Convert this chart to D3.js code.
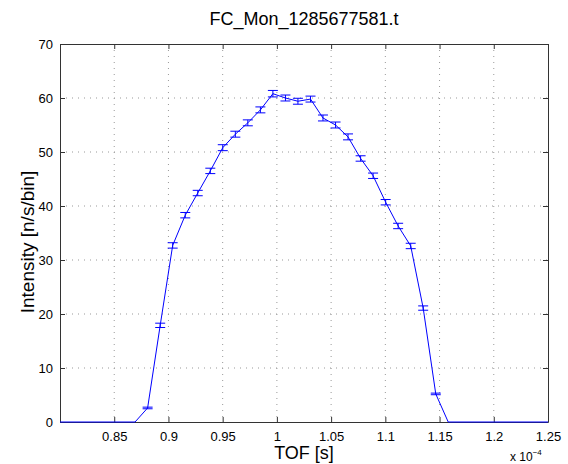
<!DOCTYPE html>
<html>
<head>
<meta charset="utf-8">
<script src="https://cdn.jsdelivr.net/npm/d3@7"></script>
<style>
  body { margin: 0; background: #fff; }
  svg text { font-family: "Liberation Sans", Arial, sans-serif; fill: #000; }
</style>
</head>
<body>
<div id="chart"></div>
<script>
// TOF in units of 1e-4 s
const tof = [0.80, 0.8692, 0.8808, 0.8924, 0.9039, 0.9155, 0.9270, 0.9386, 0.9501, 0.9617,
             0.9732, 0.9848, 0.9963, 1.0079, 1.0194, 1.0310, 1.0425, 1.0541, 1.0656, 1.0772,
             1.0887, 1.1003, 1.1118, 1.1234, 1.1349, 1.1465, 1.1580, 1.25];
const intensity = [0, 0, 2.6, 17.9, 32.7, 38.3, 42.4, 46.5, 50.8, 53.3,
                   55.4, 57.8, 60.8, 60.0, 59.4, 59.8, 56.3, 55.0, 52.8, 48.8,
                   45.6, 40.7, 36.3, 32.6, 21.1, 5.2, 0, 0];
const err = [0, 0, 0.15, 0.4, 0.5, 0.5, 0.5, 0.5, 0.55, 0.55,
             0.55, 0.55, 0.6, 0.55, 0.55, 0.55, 0.55, 0.55, 0.55, 0.5,
             0.5, 0.5, 0.5, 0.5, 0.4, 0.15, 0, 0];
const xTicks = [0.85, 0.9, 0.95, 1, 1.05, 1.1, 1.15, 1.2, 1.25];
const yTicks = [0, 10, 20, 30, 40, 50, 60, 70];

const W = 568, H = 464;
const margin = { top: 44, right: 20, bottom: 42, left: 60 };
const width = W - margin.left - margin.right;
const height = H - margin.top - margin.bottom;

const data = tof.map((t, i) => ({ t: t, y: intensity[i], e: err[i] }));

const svg = d3.select("#chart").append("svg")
  .attr("width", W)
  .attr("height", H);

const g = svg.append("g")
  .attr("transform", `translate(${margin.left}, ${margin.top})`);

const x = d3.scaleLinear().domain([0.8, 1.25]).range([0, width]);
const y = d3.scaleLinear().domain([0, 70]).range([height, 0]);

// dotted grid
g.append("g").selectAll("line")
  .data(xTicks.slice(0, -1))
  .join("line")
  .attr("x1", d => x(d)).attr("x2", d => x(d))
  .attr("y1", 0).attr("y2", height)
  .attr("stroke", "#999").attr("stroke-width", 1)
  .attr("stroke-dasharray", "1,5");

g.append("g").selectAll("line")
  .data(yTicks.slice(1, -1))
  .join("line")
  .attr("x1", 0).attr("x2", width)
  .attr("y1", d => y(d)).attr("y2", d => y(d))
  .attr("stroke", "#999").attr("stroke-width", 1)
  .attr("stroke-dasharray", "1,5");

// axes (ticks inward, box)
const xAxis = g.append("g")
  .attr("transform", `translate(0, ${height})`)
  .call(d3.axisBottom(x).tickValues(xTicks).tickSizeInner(-5).tickSizeOuter(0).tickPadding(10)
    .tickFormat(d3.format("")));
const xTop = g.append("g")
  .call(d3.axisTop(x).tickValues(xTicks).tickSizeInner(-5).tickSizeOuter(0).tickFormat(""));
const yAxis = g.append("g")
  .call(d3.axisLeft(y).tickValues(yTicks).tickSizeInner(-5).tickSizeOuter(0).tickPadding(7));
const yRight = g.append("g")
  .attr("transform", `translate(${width}, 0)`)
  .call(d3.axisRight(y).tickValues(yTicks).tickSizeInner(-5).tickSizeOuter(0).tickFormat(""));

[xAxis, xTop, yAxis, yRight].forEach(a => {
  a.select(".domain").attr("stroke", "#333");
  a.selectAll(".tick line").attr("stroke", "#333");
  a.selectAll("text").style("font-size", "13px")
    .style("font-family", "'Liberation Sans', Arial, sans-serif");
});

// data line
const line = d3.line().x(d => x(d.t)).y(d => y(d.y));
g.append("path")
  .datum(data)
  .attr("fill", "none")
  .attr("stroke", "#0000ff")
  .attr("stroke-width", 1)
  .attr("d", line);

// error bars
const eb = g.append("g").selectAll("g")
  .data(data.filter(d => d.y > 0))
  .join("g")
  .attr("stroke", "#0000ff")
  .attr("stroke-width", 1);
eb.append("line")
  .attr("x1", d => x(d.t)).attr("x2", d => x(d.t))
  .attr("y1", d => y(d.y - d.e)).attr("y2", d => y(d.y + d.e));
eb.append("line")
  .attr("x1", d => x(d.t) - 5).attr("x2", d => x(d.t) + 5)
  .attr("y1", d => y(d.y - d.e)).attr("y2", d => y(d.y - d.e));
eb.append("line")
  .attr("x1", d => x(d.t) - 5).attr("x2", d => x(d.t) + 5)
  .attr("y1", d => y(d.y + d.e)).attr("y2", d => y(d.y + d.e));

// title and labels
svg.append("text")
  .attr("x", margin.left + width / 2)
  .attr("y", 25)
  .attr("text-anchor", "middle")
  .style("font-size", "18px")
  .text("FC_Mon_1285677581.t");

svg.append("text")
  .attr("x", margin.left + width / 2)
  .attr("y", 459)
  .attr("text-anchor", "middle")
  .style("font-size", "18px")
  .text("TOF [s]");

svg.append("text")
  .attr("transform", `translate(34, 242) rotate(-90)`)
  .attr("text-anchor", "middle")
  .style("font-size", "19px")
  .text("Intensity [n/s/bin]");

const exp = svg.append("text")
  .attr("x", 510)
  .attr("y", 461)
  .style("font-size", "12px");
exp.append("tspan").text("x 10");
exp.append("tspan").attr("dy", -6).style("font-size", "8px").text("\u22124");
</script>
</body>
</html>
